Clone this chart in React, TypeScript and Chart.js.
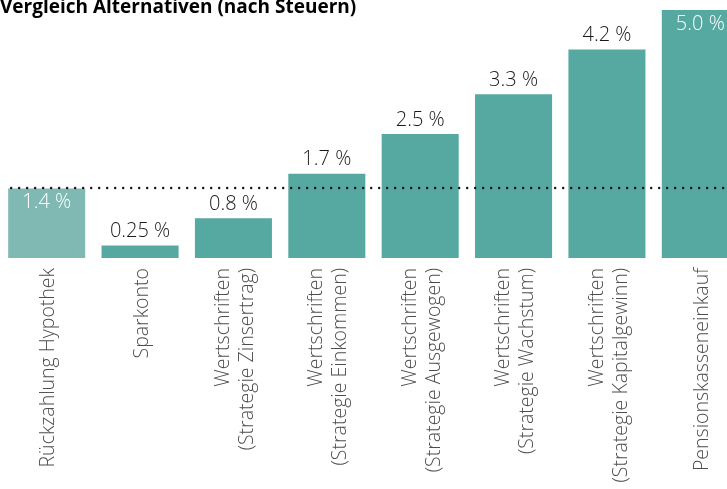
import React, { useEffect, useRef } from "react";
import { Chart, registerables } from "chart.js";

Chart.register(...registerables);

const TITLE = "Vergleich Alternativen (nach Steuern)";
const categories: (string | string[])[] = [
  "Rückzahlung Hypothek",
  "Sparkonto",
  ["Wertschriften", "(Strategie Zinsertrag)"],
  ["Wertschriften", "(Strategie Einkommen)"],
  ["Wertschriften", "(Strategie Ausgewogen)"],
  ["Wertschriften", "(Strategie Wachstum)"],
  ["Wertschriften", "(Strategie Kapitalgewinn)"],
  "Pensionskasseneinkauf",
];
const values = [1.4, 0.25, 0.8, 1.7, 2.5, 3.3, 4.2, 5.0];
const valueLabels = ["1.4 %", "0.25 %", "0.8 %", "1.7 %", "2.5 %", "3.3 %", "4.2 %", "5.0 %"];
const insideLabel = [true, false, false, false, false, false, false, true];
const referenceValue = 1.4;

const FONT = "'Open Sans', 'Noto Sans', sans-serif";

export default function App() {
  const ref = useRef<HTMLCanvasElement | null>(null);
  useEffect(() => {
    const canvas = ref.current;
    if (!canvas) return;
    const overlay = {
      id: "overlay",
      afterDatasetsDraw(chart: any) {
        const ctx = chart.ctx;
        const meta = chart.getDatasetMeta(0);
        const y = chart.scales.y;
        ctx.save();
        // reference dotted line
        const ly = Math.round(y.getPixelForValue(referenceValue)) - 1;
        ctx.strokeStyle = "#111";
        ctx.lineWidth = 2.4;
        ctx.lineCap = "round";
        ctx.setLineDash([0, 8]);
        ctx.beginPath();
        ctx.moveTo(meta.data[0].x - meta.data[0].width / 2 + 3, ly);
        ctx.lineTo(chart.chartArea.right, ly);
        ctx.stroke();
        ctx.setLineDash([]);
        // value labels
        ctx.font = `300 20px ${FONT}`;
        ctx.textAlign = "center";
        meta.data.forEach((bar: any, i: number) => {
          if (insideLabel[i]) {
            ctx.fillStyle = "#ffffff";
            ctx.textBaseline = "top";
            ctx.fillText(valueLabels[i], bar.x, bar.y + 4);
          } else {
            ctx.fillStyle = "#1a1a1a";
            ctx.textBaseline = "bottom";
            ctx.fillText(valueLabels[i], bar.x, bar.y - 4);
          }
        });
        // title
        ctx.font = `bold 19px ${FONT}`;
        ctx.fillStyle = "#000";
        ctx.textAlign = "left";
        ctx.textBaseline = "alphabetic";
        ctx.fillText(TITLE, 0, 13);
        ctx.restore();
      },
    };
    const chart = new Chart(canvas, {
      type: "bar",
      data: {
        labels: categories,
        datasets: [
          {
            data: values,
            backgroundColor: values.map((_, i) => (i === 0 ? "#80b9b3" : "#55a9a0")),
            borderWidth: 0,
            categoryPercentage: 1,
            barPercentage: 0.825,
          },
        ],
      },
      options: {
        animation: false,
        responsive: false,
        maintainAspectRatio: false,
        layout: { padding: 0 },
        plugins: { legend: { display: false }, tooltip: { enabled: false }, title: { display: false } },
        scales: {
          x: {
            grid: { display: false, drawTicks: false },
            border: { display: false },
            ticks: {
              autoSkip: false,
              minRotation: 90,
              maxRotation: 90,
              padding: 10,
              labelOffset: -10,
              color: "#4d4d4d",
              callback: (_v: any, i: number) => {
                const c = categories[i];
                return Array.isArray(c) ? c : ["", c];
              },
              font: (ctx: any) => {
                const multi = Array.isArray(categories[ctx.index]);
                return {
                  family: FONT,
                  size: 19.5,
                  weight: "300",
                  lineHeight: multi ? "24px" : "12px",
                };
              },
            },
            afterFit(scale: any) {
              scale.height = 231;
            },
          },
          y: {
            display: false,
            min: 0,
            max: 5.2,
          },
        },
      },
      plugins: [overlay],
    });
    return () => chart.destroy();
  }, []);
  return (
    <div style={{ position: "fixed", left: 0, top: 0, width: 727, height: 489, overflow: "hidden", background: "#fff" }}>
      <canvas ref={ref} width={747} height={489} style={{ display: "block", width: 747, height: 489 }} />
    </div>
  );
}
